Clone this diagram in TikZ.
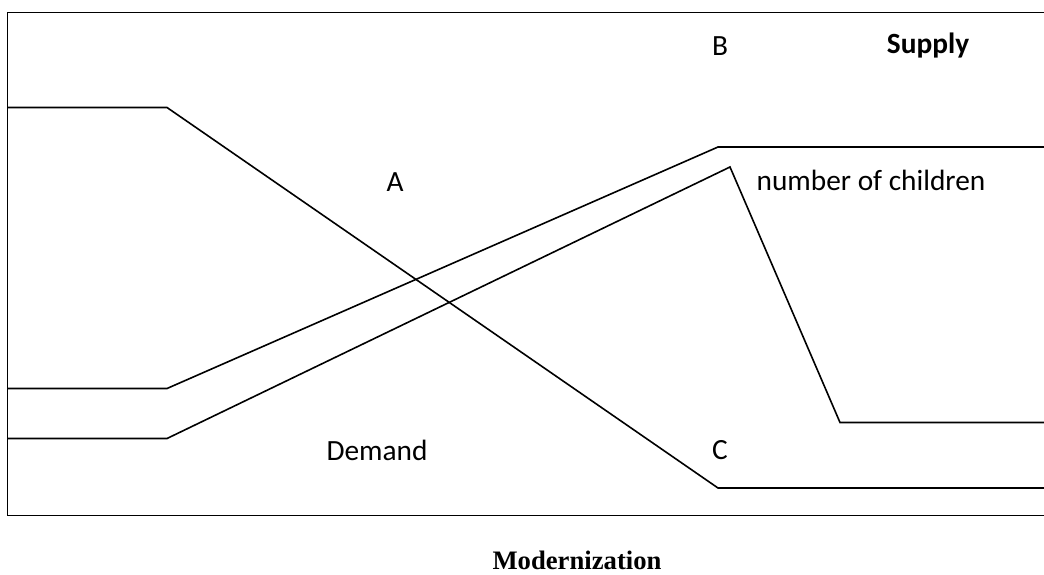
\documentclass[tikz,border=0pt]{standalone}
\usepackage{fontspec}
\setmainfont{Carlito}
\newfontfamily\titlefont{Liberation Serif}
\usepackage{tikz}

\begin{document}
\begin{tikzpicture}[x=0.75pt,y=-0.75pt,line width=1.2pt,
  lbl/.style={font=\fontsize{22}{26}\selectfont},
  ttl/.style={font=\titlefont\bfseries\fontsize{20}{24}\selectfont}]
\useasboundingbox (0,0) rectangle (1044,574);
% frame (open on the right)
\draw (1044,12.5) -- (7.5,12.5) -- (7.5,515.5) -- (1044,515.5);
% demand
\draw (7.5,107.5) -- (167,107.5) -- (718,488) -- (1044,488);
% supply
\draw (7.5,388.5) -- (167,388.5) -- (718,147) -- (1044,147);
% number of children
\draw (7.5,438.5) -- (167,438.5) -- (730,167) -- (840,422.5) -- (1044,422.5);

\node[lbl] (b) at (720,46) {B};
\node[lbl] (supply) at (928,46) {\bfseries Supply};
\node[lbl] (a) at (395,182) {A};
\node[lbl] (children) at (871,180) {number of children};
\node[lbl] (demand) at (377,450) {Demand};
\node[lbl] (c) at (720,450) {C};
\node[ttl] (modern) at (577,560) {Modernization};
\end{tikzpicture}
\end{document}
